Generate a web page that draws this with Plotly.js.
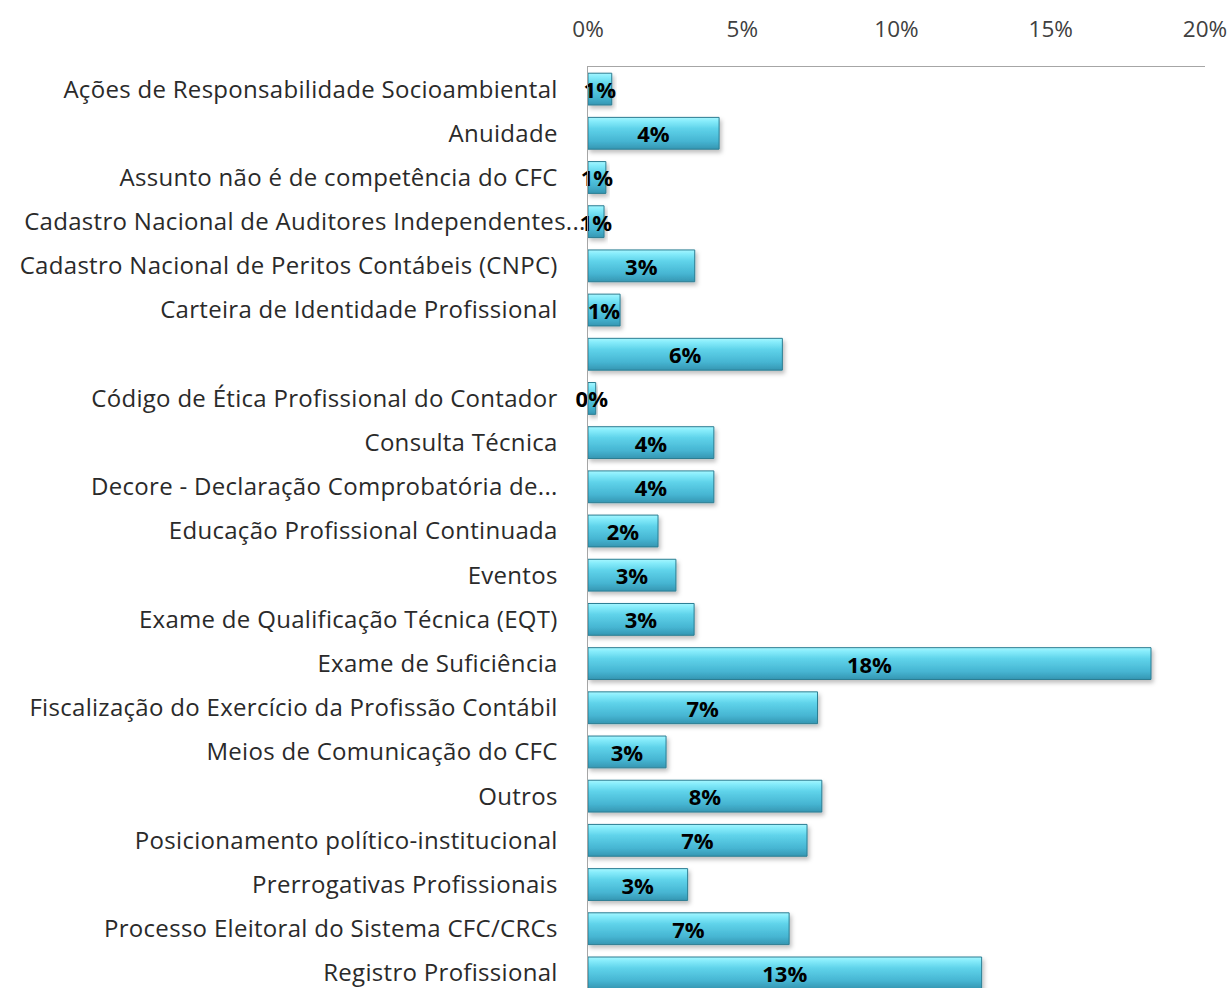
<!DOCTYPE html>
<html>
<head>
<meta charset="utf-8">
<script src="https://cdn.plot.ly/plotly-3.0.1.min.js"></script>
<style>
html,body{margin:0;padding:0;background:#fff;overflow:hidden;}
#chart{width:1232px;height:1000px;}
#chart .ytick text{letter-spacing:0.3px;}
</style>
</head>
<body>
<div id="chart"></div>
<script>
var categories = [
  "Ações de Responsabilidade Socioambiental",
  "Anuidade",
  "Assunto não é de competência do CFC",
  "Cadastro Nacional de Auditores Independentes...",
  "Cadastro Nacional de Peritos Contábeis (CNPC)",
  "Carteira de Identidade Profissional",
  " ",
  "Código de Ética Profissional do Contador",
  "Consulta Técnica",
  "Decore - Declaração Comprobatória de...",
  "Educação Profissional Continuada",
  "Eventos",
  "Exame de Qualificação Técnica (EQT)",
  "Exame de Suficiência",
  "Fiscalização do Exercício da Profissão Contábil",
  "Meios de Comunicação do CFC",
  "Outros",
  "Posicionamento político-institucional",
  "Prerrogativas Profissionais",
  "Processo Eleitoral do Sistema CFC/CRCs",
  "Registro Profissional"
];
var shares = [0.77, 4.25, 0.58, 0.52, 3.46, 1.04, 6.3, 0.25, 4.08, 4.08, 2.27, 2.85, 3.44, 18.25, 7.44, 2.53, 7.58, 7.1, 3.23, 6.52, 12.76];
var tickValues = [0, 5, 10, 15, 20];
var tickLabels = ["0%", "5%", "10%", "15%", "20%"];

var trace = {
  type: 'bar',
  orientation: 'h',
  y: categories,
  x: shares,
  marker: {color: '#4cc3dd', line: {color: '#2b7d92', width: 1}},
  texttemplate: '%{x:.0f}%',
  textposition: 'inside',
  insidetextanchor: 'middle',
  constraintext: 'none',
  cliponaxis: false,
  textangle: 0,
  textfont: {family: '"Open Sans", sans-serif', size: 22, color: '#000', weight: 'bold'},
  hoverinfo: 'none'
};

var layout = {
  width: 1232,
  height: 1000,
  margin: {l: 588, r: 27, t: 67, b: 5},
  paper_bgcolor: '#fff',
  plot_bgcolor: '#fff',
  showlegend: false,
  bargap: 0.28,
  font: {family: '"Open Sans", sans-serif', color: '#333'},
  xaxis: {
    side: 'top',
    range: [0, 20],
    tickvals: tickValues,
    ticktext: tickLabels,
    showgrid: false,
    zeroline: false,
    showline: true,
    linecolor: '#a6a6a6',
    linewidth: 1.5,
    ticks: '',
    ticklabelstandoff: 20,
    tickfont: {size: 22.5, color: '#404040'}
  },
  yaxis: {
    type: 'category',
    autorange: 'reversed',
    showgrid: false,
    zeroline: false,
    showline: true,
    linecolor: '#a6a6a6',
    linewidth: 1.5,
    ticks: '',
    ticklabelstandoff: 24,
    tickfont: {size: 24, color: '#2a2a2a'}
  }
};

Plotly.newPlot('chart', [trace], layout, {displayModeBar: false, staticPlot: true}).then(function(gd){
  var svg = gd.querySelector('svg.main-svg');
  var ns = 'http://www.w3.org/2000/svg';
  var defs = svg.querySelector('defs');
  var grad = document.createElementNS(ns, 'linearGradient');
  grad.setAttribute('id', 'barGrad');
  grad.setAttribute('x1', '0'); grad.setAttribute('y1', '0');
  grad.setAttribute('x2', '0'); grad.setAttribute('y2', '1');
  [['0', '#a6f6ff'], ['0.12', '#86ecfb'], ['0.35', '#5fd3ea'], ['0.75', '#46b5d2'], ['1', '#3596b2']].forEach(function(s){
    var st = document.createElementNS(ns, 'stop');
    st.setAttribute('offset', s[0]); st.setAttribute('stop-color', s[1]);
    grad.appendChild(st);
  });
  defs.appendChild(grad);
  var filt = document.createElementNS(ns, 'filter');
  filt.setAttribute('id', 'barShadow');
  filt.setAttribute('x', '-10%'); filt.setAttribute('y', '-20%');
  filt.setAttribute('width', '130%'); filt.setAttribute('height', '160%');
  var ds = document.createElementNS(ns, 'feDropShadow');
  ds.setAttribute('dx', '2'); ds.setAttribute('dy', '3');
  ds.setAttribute('stdDeviation', '2'); ds.setAttribute('flood-color', '#000');
  ds.setAttribute('flood-opacity', '0.25');
  filt.appendChild(ds);
  defs.appendChild(filt);
  gd.querySelectorAll('.barlayer .point path').forEach(function(p){
    p.style.fill = 'url(#barGrad)';
    p.setAttribute('filter', 'url(#barShadow)');
  });
  // the long truncated label overflows toward the bars, as in the original
  gd.querySelectorAll('.ytick text').forEach(function(t){
    if (t.textContent.indexOf('Auditores') >= 0) {
      t.setAttribute('x', parseFloat(t.getAttribute('x') || 0) + 28);
    }
  });
});
</script>
</body>
</html>
